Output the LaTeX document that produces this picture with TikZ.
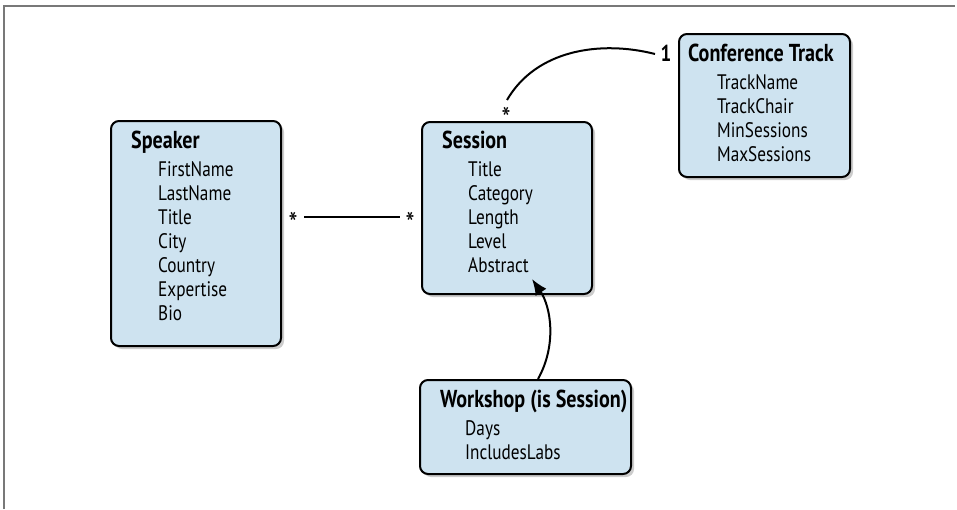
\documentclass[tikz,border=0pt]{standalone}
\usepackage{fontspec}
\setmainfont{PT Sans}[FakeStretch=0.82]
\usetikzlibrary{positioning}
\usetikzlibrary{arrows.meta}
\usetikzlibrary{shadows}
\definecolor{boxblue}{RGB}{206,227,240}
\definecolor{framegray}{RGB}{120,120,120}

\begin{document}
\begin{tikzpicture}[
        x=1pt, y=-1pt,
        entitybox/.style={rectangle, rounded corners=8pt, draw=black, line width=2pt, fill=boxblue, anchor=north west, inner sep=0pt,
            drop shadow={shadow xshift=3pt, shadow yshift=-3pt, opacity=0.4}},
        entitytext/.style={anchor=base west, align=left, inner sep=0pt, font=\fontsize{21}{24}\selectfont},
        multlabel/.style={inner sep=0pt, font=\fontsize{31}{31}\selectfont},
        link/.style={line width=2pt},
    ]
    \useasboundingbox (0,0) rectangle (957,509);

    % Frame
    \draw[framegray, line width=1.3pt] (4,509) -- (4,6) -- (955,6);

    % Objects
    \node[entitybox, minimum width=170pt, minimum height=225pt] (speaker) at (110,120) {};
    \node[entitybox, minimum width=170pt, minimum height=172pt] (session) at (421,121) {};
    \node[entitybox, minimum width=171pt, minimum height=143pt] (confTrack) at (678,33) {};
    \node[entitybox, minimum width=211pt, minimum height=94pt] (workshop) at (419,379) {};

    % Texts (anchored at the baseline of the last line)
    \node[entitytext] (speakerText) at (131,320) {\textbf{\fontsize{24.5}{24}\selectfont Speaker}\\[4pt]
        \hspace*{27pt}FirstName\\ \hspace*{27pt}LastName\\ \hspace*{27pt}Title\\ \hspace*{27pt}City\\
        \hspace*{27pt}Country\\ \hspace*{27pt}Expertise\\ \hspace*{27pt}Bio};
    \node[entitytext] (sessionText) at (442,272) {\textbf{\fontsize{24.5}{24}\selectfont Session}\\[4pt]
        \hspace*{26pt}Title\\ \hspace*{26pt}Category\\ \hspace*{26pt}Length\\ \hspace*{26pt}Level\\
        \hspace*{26pt}Abstract};
    \node[entitytext] (confTrackText) at (688,161) {\textbf{\fontsize{24.5}{24}\selectfont Conference Track}\\[4pt]
        \hspace*{29pt}TrackName\\ \hspace*{29pt}TrackChair\\ \hspace*{29pt}MinSessions\\ \hspace*{29pt}MaxSessions};
    \node[entitytext] (workshopText) at (440,459) {\textbf{\fontsize{24.5}{24}\selectfont Workshop (is Session)}\\[4pt]
        \hspace*{25pt}Days\\ \hspace*{25pt}IncludesLabs};

    % Multiplicities
    \node[multlabel] (speakerMult) at (293,223) {*};
    \node[multlabel] (sessionMultLeft) at (410,223) {*};
    \node[multlabel] (sessionMultTop) at (506,118) {*};
    \node[multlabel, font=\bfseries\fontsize{23}{24}\selectfont] (trackMult) at (666,53) {1};

    % Lines
    \draw[link, shorten <=22pt, shorten >=21pt] ([yshift=16.5pt]speaker.east) -- ([yshift=16.5pt]speaker.east -| session.west);
    \draw[link] ([yshift=21pt]session.north) .. controls +(29,-50) and +(-55,-14) .. ([xshift=-23pt,yshift=-21pt]confTrack.north west);
    \draw[link, -{Latex[length=16pt,width=13pt]}] ([xshift=12.5pt]workshop.north) .. controls +(19,-34) and +(19,28) .. ([xshift=25pt,yshift=16pt]session.south);

\end{tikzpicture}
\end{document}
